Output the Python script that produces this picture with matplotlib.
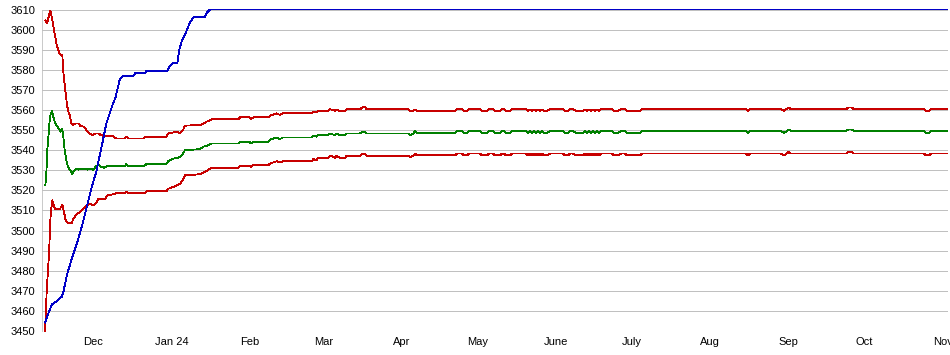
import numpy as np
import pandas as pd
import matplotlib
matplotlib.use("Agg")
import matplotlib.pyplot as plt

# days are counted from this date
t0 = pd.Timestamp("2023-11-10")

# upper band (red), first weeks
upper_days = [2.15, 2.82, 3.21, 4.12, 4.52, 5.19, 5.59, 6.10, 6.49, 7.17,
              7.68, 8.23, 8.87, 9.26, 9.81, 10.21, 10.72, 11.40, 11.79, 12.42,
              13.10, 14.00, 15.35, 15.98, 17.44, 18.35, 19.70, 21.00, 21.91, 23.25,
              24.04, 25.62, 28.91, 30.21, 33.53, 34.16, 35.11, 41.16, 41.67, 49.97,
              50.76, 52.74, 54.20, 55.39, 56.57, 57.36, 63.29]
upper_vals = [3604.5, 3603.0, 3605.0, 3609.5, 3607.5, 3602.5, 3599.7, 3596.3, 3593.3, 3590.3,
              3588.3, 3587.5, 3587.5, 3579.0, 3572.5, 3568.3, 3562.5, 3558.3, 3557.5, 3553.3,
              3552.5, 3553.3, 3553.3, 3552.0, 3551.7, 3550.0, 3548.3, 3547.5, 3548.3, 3548.3,
              3547.5, 3547.0, 3547.0, 3545.8, 3545.8, 3546.7, 3545.8, 3545.8, 3546.7, 3546.7,
              3548.3, 3548.8, 3549.2, 3548.3, 3550.0, 3552.2, 3552.5]

# mean (green), first weeks
mean_days = [2.15, 2.54, 2.94, 3.49, 3.89, 4.28, 4.79, 5.19, 5.59, 6.49,
             7.44, 8.23, 8.75, 9.14, 9.81, 10.45, 11.12, 12.03, 12.82, 13.49,
             14.40, 15.35, 16.38, 17.72, 18.75, 19.70, 21.00, 22.30, 23.25, 24.28,
             25.35, 26.65, 33.53, 34.16, 35.11, 41.16, 42.07, 49.97, 50.76, 52.74,
             54.20, 55.39, 56.45, 57.36, 63.29]
mean_vals = [3522.5, 3528.3, 3540.0, 3548.3, 3555.0, 3558.3, 3559.3, 3557.5, 3555.0, 3552.5,
             3550.8, 3549.2, 3550.8, 3548.3, 3540.0, 3535.0, 3531.7, 3530.0, 3528.0, 3529.7,
             3530.8, 3530.3, 3530.8, 3530.8, 3530.3, 3530.8, 3530.3, 3532.0, 3532.5, 3531.7,
             3531.3, 3532.0, 3532.0, 3533.0, 3532.0, 3532.0, 3533.0, 3533.3, 3534.5, 3535.8,
             3536.0, 3536.7, 3538.0, 3540.0, 3540.5]

# lower band (red), first weeks
lower_days = [2.03, 2.30, 2.70, 3.33, 3.73, 4.00, 4.28, 4.91, 5.31, 5.98,
              7.96, 8.87, 9.54, 10.21, 11.24, 12.58, 13.21, 14.56, 15.86, 17.17,
              18.51, 19.81, 21.12, 22.46, 23.09, 25.74, 26.65, 29.02, 30.37, 33.65,
              34.32, 34.95, 41.55, 42.23, 50.13, 50.76, 52.74, 55.39, 56.45, 57.36,
              63.29]
lower_vals = [3450.0, 3456.7, 3470.0, 3482.5, 3491.7, 3501.7, 3508.3, 3515.0, 3513.3, 3510.8,
              3510.8, 3512.8, 3509.2, 3505.0, 3503.8, 3503.8, 3505.8, 3508.3, 3509.2, 3510.8,
              3512.5, 3513.3, 3512.5, 3514.2, 3515.8, 3515.8, 3517.5, 3518.0, 3518.7, 3518.7,
              3519.3, 3518.7, 3518.7, 3519.7, 3519.7, 3520.8, 3521.7, 3523.3, 3525.0, 3527.5,
              3528.0]

# later dates shared by the three band lines
shared_days = [64.60, 65.94, 67.92, 78.43, 79.10, 82.78, 83.33, 84.36, 90.29, 90.96,
               93.61, 94.91, 95.98, 107.44, 108.07, 109.42, 110.05, 114.00, 114.68, 115.98,
               116.65, 117.32, 118.35, 120.61, 121.28, 126.53, 127.44, 128.51, 129.18, 145.51,
               146.30, 147.48, 148.27, 149.06, 149.86, 164.09, 164.88, 166.85, 167.64, 168.83,
               169.62, 173.97, 174.75, 176.73, 177.52, 179.10, 179.89, 181.87, 182.66, 183.45,
               184.24, 185.82, 186.61, 192.15, 192.94, 193.73, 194.52, 195.31, 196.10, 196.89,
               197.68, 198.47, 199.26, 200.45, 201.63, 206.77, 207.56, 208.75, 209.54, 210.72,
               211.91, 214.68, 215.47, 216.26, 217.05, 217.83, 218.62, 219.41, 220.20, 220.99,
               221.78, 222.57, 226.14, 226.93, 228.51, 229.69, 231.27, 232.06, 237.21, 237.99,
               279.10, 279.89, 280.68, 292.93, 294.12, 296.10, 296.89, 318.63, 319.42, 321.00,
               321.79, 349.45, 350.24, 351.43, 352.22, 358.55]

upper_tail = [3553.3, 3554.2, 3555.3, 3555.3, 3556.3, 3556.3, 3555.5, 3556.3, 3556.3, 3557.2,
              3558.3, 3557.5, 3558.3, 3558.3, 3559.2, 3558.7, 3559.5, 3559.5, 3560.3, 3560.0,
              3559.5, 3560.3, 3559.5, 3559.5, 3560.3, 3560.3, 3561.3, 3561.3, 3560.3, 3560.3,
              3559.5, 3559.5, 3560.3, 3559.6, 3559.6, 3559.6, 3560.3, 3560.3, 3559.6, 3559.6,
              3560.3, 3560.3, 3559.6, 3559.6, 3560.3, 3560.3, 3559.6, 3559.6, 3560.3, 3560.3,
              3559.6, 3559.6, 3560.3, 3560.3, 3559.6, 3560.3, 3559.6, 3560.3, 3559.6, 3560.3,
              3559.6, 3560.3, 3559.6, 3559.6, 3560.3, 3560.3, 3559.6, 3559.6, 3560.3, 3560.3,
              3559.6, 3559.6, 3560.3, 3559.6, 3560.3, 3559.6, 3560.3, 3559.6, 3560.3, 3559.6,
              3560.3, 3560.3, 3560.3, 3559.6, 3559.6, 3560.3, 3560.3, 3559.6, 3559.6, 3560.3,
              3560.3, 3559.6, 3560.3, 3560.3, 3559.6, 3561.2, 3560.3, 3560.3, 3561.2, 3561.2,
              3560.3, 3560.3, 3559.6, 3559.6, 3560.3, 3560.3]

mean_tail = [3541.7, 3542.2, 3543.3, 3543.3, 3544.2, 3544.2, 3543.3, 3544.2, 3544.2, 3545.3,
             3546.3, 3545.5, 3546.3, 3546.3, 3547.2, 3546.7, 3547.5, 3547.5, 3548.3, 3547.8,
             3547.5, 3548.3, 3547.5, 3547.5, 3548.3, 3548.3, 3549.2, 3549.2, 3548.3, 3548.3,
             3547.6, 3548.0, 3549.4, 3548.6, 3548.6, 3548.6, 3549.4, 3549.4, 3548.6, 3548.6,
             3549.4, 3549.4, 3548.6, 3548.6, 3549.4, 3549.4, 3548.6, 3548.6, 3549.4, 3549.4,
             3548.6, 3548.6, 3549.4, 3549.4, 3548.6, 3549.4, 3548.6, 3549.4, 3548.6, 3549.4,
             3548.6, 3549.4, 3548.6, 3548.6, 3549.4, 3549.4, 3548.6, 3548.6, 3549.4, 3549.4,
             3548.6, 3548.6, 3549.4, 3548.6, 3549.4, 3548.6, 3549.4, 3548.6, 3549.4, 3548.6,
             3549.4, 3549.4, 3549.4, 3548.6, 3548.6, 3549.4, 3549.4, 3548.6, 3548.6, 3549.4,
             3549.4, 3548.6, 3549.4, 3549.4, 3548.6, 3550.3, 3549.4, 3549.4, 3550.3, 3550.3,
             3549.4, 3549.4, 3548.6, 3548.6, 3549.4, 3549.4]

lower_tail = [3528.8, 3529.7, 3531.3, 3531.3, 3532.2, 3532.2, 3531.7, 3532.5, 3532.5, 3533.3,
              3534.5, 3533.8, 3534.5, 3534.5, 3535.5, 3535.0, 3536.3, 3536.3, 3537.2, 3536.7,
              3536.2, 3537.2, 3536.3, 3536.3, 3537.2, 3537.2, 3538.0, 3538.0, 3537.2, 3537.2,
              3536.7, 3537.0, 3538.3, 3537.4, 3537.4, 3537.4, 3538.3, 3538.3, 3537.4, 3537.4,
              3538.3, 3538.3, 3537.4, 3537.4, 3538.3, 3538.3, 3537.4, 3537.4, 3538.3, 3538.3,
              3537.4, 3537.4, 3538.3, 3538.3, 3537.4, 3538.3, 3537.4, 3538.3, 3537.4, 3538.3,
              3537.4, 3538.3, 3537.4, 3537.4, 3538.3, 3538.3, 3537.4, 3537.4, 3538.3, 3538.3,
              3537.4, 3537.4, 3538.3, 3537.4, 3538.3, 3537.4, 3538.3, 3537.4, 3538.3, 3537.4,
              3538.3, 3538.3, 3538.3, 3537.4, 3537.4, 3538.3, 3538.3, 3537.4, 3537.4, 3538.3,
              3538.3, 3537.4, 3538.3, 3538.3, 3537.4, 3539.2, 3538.3, 3538.3, 3539.2, 3539.2,
              3538.3, 3538.3, 3537.4, 3537.4, 3538.3, 3538.3]

# running total (blue)
total_days = [2.03, 3.21, 4.79, 6.49, 8.63, 9.26, 10.61, 12.58, 14.56, 16.53,
              18.51, 20.49, 22.46, 22.98, 24.95, 26.26, 27.60, 28.91, 29.81, 30.60,
              31.55, 32.86, 36.81, 37.72, 41.43, 42.07, 49.97, 50.37, 51.43, 52.50,
              54.32, 55.11, 56.06, 57.36, 58.27, 59.34, 60.92, 65.27, 66.18, 67.24,
              358.55]
total_vals = [3454.2, 3458.3, 3463.3, 3464.7, 3467.0, 3469.2, 3477.5, 3485.8, 3493.3, 3501.7,
              3511.7, 3521.7, 3530.0, 3533.3, 3545.0, 3553.3, 3558.3, 3563.3, 3565.8, 3570.0,
              3575.0, 3577.0, 3577.0, 3578.3, 3578.3, 3579.3, 3579.3, 3579.7, 3582.0, 3583.3,
              3583.3, 3590.0, 3594.2, 3597.5, 3600.3, 3603.7, 3606.3, 3606.3, 3608.7, 3610.0,
              3610.0]

month_starts = pd.date_range("2023-12-01", "2024-11-01", freq="MS")
month_labels = ["Dec", "Jan 24", "Feb", "Mar", "Apr", "May", "June",
                "July", "Aug", "Sep", "Oct", "Nov"]
y_ticks = list(range(3450, 3611, 10))


def to_dates(days):
    return t0 + pd.to_timedelta(np.asarray(days, dtype=float), unit="D")


plt.rcParams["font.family"] = ["Liberation Sans", "DejaVu Sans"]

fig = plt.figure(figsize=(9.5, 3.55), dpi=100)
ax = fig.add_axes([42 / 950, 24 / 355, 906 / 950, 321.5 / 355])

line_kw = dict(lw=0.6, antialiased=False, clip_on=False)
ax.plot(to_dates(upper_days + shared_days), upper_vals + upper_tail, color="#c80000", **line_kw)
ax.plot(to_dates(mean_days + shared_days), mean_vals + mean_tail, color="#008000", **line_kw)
ax.plot(to_dates(lower_days + shared_days), lower_vals + lower_tail, color="#c80000", **line_kw)
ax.plot(to_dates(total_days), total_vals, color="#0000c8", **line_kw)

ax.set_xlim(to_dates([0.84, 358.94]))
ax.set_ylim(3450, 3610)

ax.set_yticks(y_ticks)
ax.set_xticks(month_starts)
ax.set_xticklabels(month_labels)
ax.yaxis.grid(True, color="#c0c0c0", lw=0.6, antialiased=False)
ax.set_axisbelow(True)

for side in ["top", "right", "bottom"]:
    ax.spines[side].set_visible(False)
ax.spines["left"].set_color("#c0c0c0")
ax.spines["left"].set_linewidth(0.6)

ax.tick_params(axis="both", length=0, labelsize=8, colors="black")
ax.tick_params(axis="y", pad=5)
ax.tick_params(axis="x", pad=4)

fig.savefig("out.png", dpi=100)
